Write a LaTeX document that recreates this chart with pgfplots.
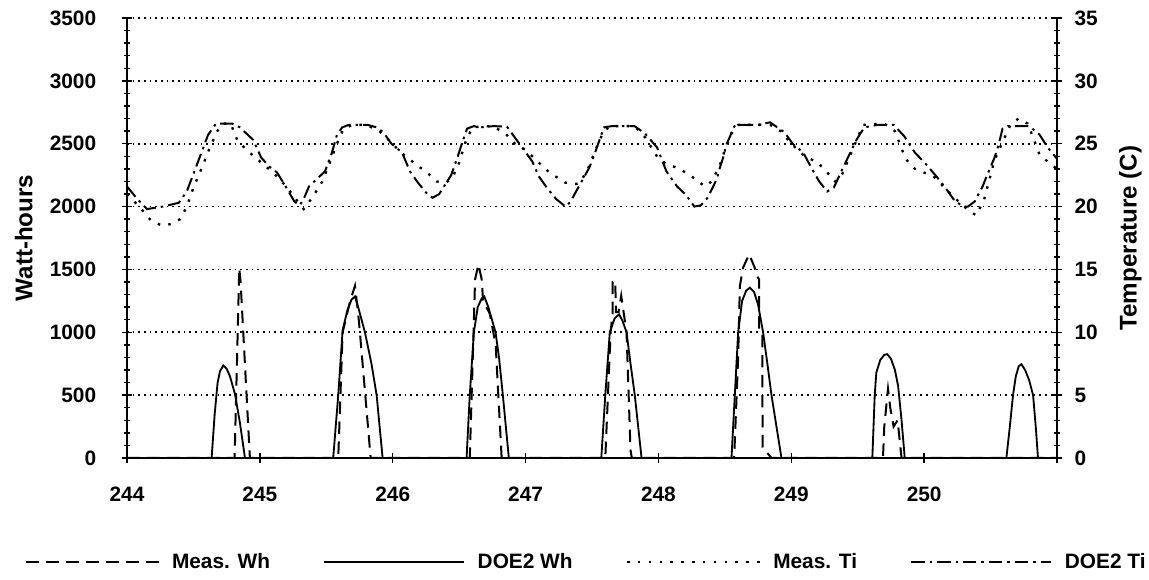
\documentclass[border=0pt]{standalone}
\usepackage{fontspec}
\setmainfont{Liberation Sans}
\usepackage{pgfplots}
\pgfplotsset{compat=1.18}
\pgfplotsset{
  measwh/.style={black, line width=1.2pt, dash pattern=on 7.5pt off 4.5pt},
  doewh/.style={black, line width=1.1pt, solid},
  measti/.style={black, line width=1.4pt, dash pattern=on 1.5pt off 5pt},
  doeti/.style={black, line width=1.2pt, dash pattern=on 8pt off 3pt on 1.5pt off 3pt},
  shortimg/.style={legend image code/.code={\draw[##1] (0pt,0pt) -- (79.5pt,0pt); \path (85pt,0pt);}},
  common/.style={
    at={(76.2pt,72.6pt)}, anchor=south west,
    scale only axis, width=558pt, height=264pt,
    xmin=244, xmax=251,
    tick align=center,
    major tick length=6pt, minor tick length=3.5pt,
    every tick/.style={black, line width=0.8pt},
    axis line style={black, line width=1.2pt},
    /pgf/number format/assume math mode=true,
    /pgf/number format/1000 sep={},
    tick label style={font=\fontsize{12.5}{15}\selectfont\bfseries},
    label style={font=\fontsize{14.5}{17}\selectfont\bfseries},
    scaled ticks=false,
  },
}
\begin{document}
\begin{tikzpicture}
\useasboundingbox (0,0) rectangle (689.4pt,347.4pt);
\begin{axis}[common,
  ymin=0, ymax=3500,
  axis x line*=bottom, axis y line*=left,
  xtick={244,245,...,251}, xticklabels={244,245,246,247,248,249,250,},
  ytick={0,500,...,3500}, minor y tick num=4,
  ymajorgrids,
  major grid style={black, line width=1pt, dash pattern=on 1pt off 2.4pt},
  xticklabel style={yshift=-11pt},
  yticklabel style={xshift=-12pt},
  ylabel={Watt-hours},
  ylabel style={at={(axis description cs:-0.111,0.5)}, anchor=center},
]
\addplot[measwh] coordinates {
(244,0) (244.81,0) (244.845,1510) (244.855,1400) (244.925,0)
(245.59,0) (245.623,1000) (245.68,1250) (245.716,1370) (245.74,1150) (245.753,1000) (245.834,0)
(246.58,0) (246.60,700) (246.62,1420) (246.645,1540) (246.67,1420) (246.68,1250) (246.73,1150) (246.775,900) (246.82,0)
(247.60,0) (247.64,1000) (247.655,1150) (247.656,1400) (247.675,1410) (247.68,1160) (247.70,1160) (247.72,1290) (247.76,1000) (247.79,60) (247.80,0)
(248.57,0) (248.60,800) (248.613,1368) (248.637,1514) (248.683,1620) (248.725,1514) (248.74,1450) (248.757,1421) (248.758,1024) (248.782,1000) (248.784,85) (248.851,0)
(249.69,0) (249.70,250) (249.728,550) (249.745,400) (249.77,250) (249.80,300) (249.83,0)
(251,0)
};
\addplot[doewh] coordinates {
(244,0) (244.637,0) (244.66,350) (244.682,600) (244.70,690) (244.725,736) (244.75,710) (244.775,650) (244.813,507) (244.85,280) (244.888,0)
(245.552,0) (245.59,500) (245.623,1016) (245.66,1180) (245.69,1260) (245.716,1285) (245.74,1200) (245.791,1000) (245.84,750) (245.879,500) (245.924,0)
(246.556,0) (246.58,500) (246.611,1000) (246.64,1200) (246.67,1270) (246.689,1285) (246.72,1200) (246.774,1000) (246.80,800) (246.829,500) (246.874,0)
(247.57,0) (247.60,500) (247.634,1000) (247.67,1110) (247.704,1143) (247.73,1090) (247.760,1000) (247.79,750) (247.822,500) (247.873,0)
(248.55,0) (248.575,500) (248.600,1000) (248.63,1250) (248.66,1330) (248.688,1355) (248.72,1320) (248.75,1220) (248.788,1000) (248.82,750) (248.851,500) (248.926,0)
(249.61,0) (249.628,500) (249.64,680) (249.67,780) (249.70,820) (249.721,826) (249.75,790) (249.78,700) (249.804,574) (249.83,300) (249.854,0)
(250.619,0) (250.645,250) (250.669,500) (250.69,650) (250.712,730) (250.732,746) (250.76,700) (250.79,620) (250.820,500) (250.84,250) (250.857,0)
(251,0)
};
\end{axis}
\begin{axis}[common,
  ymin=0, ymax=35,
  axis x line=none, axis y line*=right,
  ytick={0,5,...,35}, minor y tick num=4,
  yticklabel style={xshift=4pt},
  ylabel={Temperature (C)},
  ylabel style={at={(axis description cs:1.079,0.5)}, anchor=center},
  legend columns=4,
  legend style={at={(axis description cs:0.4946,-0.236)}, anchor=center, draw=none, fill=none,
    font=\fontsize{12.5}{15}\selectfont\bfseries,
    /tikz/every odd column/.append style={column sep=0pt},
    /tikz/every even column/.append style={column sep=30pt}},
  legend image code/.code={\draw[#1] (0pt,0pt) -- (84pt,0pt); \path (89.5pt,0pt);},
]
\addlegendimage{measwh, shortimg}\addlegendentry{Meas. Wh}
\addlegendimage{doewh}\addlegendentry{DOE2 Wh}
\addplot[measti, shortimg] coordinates {
(244.00,21.0) (244.10,19.9) (244.18,18.9) (244.26,18.5) (244.33,18.6) (244.40,19.0) (244.45,20.0) (244.50,21.5) (244.56,23.0) (244.62,24.6) (244.68,26.0) (244.72,26.6) (244.78,26.6) (244.83,25.3) (244.90,24.5)
(245.00,23.6) (245.10,22.7) (245.20,21.6) (245.27,20.6) (245.33,19.8) (245.40,20.8) (245.47,22.0) (245.53,23.6) (245.58,25.0) (245.63,26.2) (245.70,26.5) (245.80,26.5) (245.90,26.0)
(246.00,25.0) (246.05,24.4) (246.17,23.4) (246.27,22.6) (246.33,22.0) (246.40,21.9) (246.45,22.3) (246.50,23.5) (246.55,25.2) (246.60,26.3) (246.70,26.4) (246.76,26.35) (246.85,25.8) (246.92,25.0)
(247.00,24.5) (247.05,24.0) (247.18,22.7) (247.30,21.9) (247.38,21.8) (247.41,21.9) (247.47,23.0) (247.53,24.6) (247.58,25.8) (247.63,26.4) (247.82,26.4) (247.90,25.5)
(248.00,23.8) (248.06,23.4) (248.16,23.0) (248.25,22.4) (248.35,21.6) (248.40,22.0) (248.46,23.2) (248.50,24.5) (248.55,25.8) (248.60,26.5) (248.75,26.5) (248.84,26.5) (248.92,26.0)
(249.00,25.0) (249.10,24.0) (249.20,23.5) (249.28,22.6) (249.33,22.0) (249.38,22.5) (249.44,24.0) (249.50,25.5) (249.54,26.5) (249.70,26.6) (249.78,26.0) (249.82,24.9) (249.86,23.8) (249.93,23.0)
(250.07,22.4) (250.20,21.0) (250.30,20.0) (250.39,19.3) (250.45,20.5) (250.53,23.7) (250.58,24.9) (250.65,26.5) (250.71,27.0) (250.78,26.6) (250.87,24.1) (250.95,23.4) (251.00,23.0)
};
\addlegendentry{Meas. Ti}
\addplot[doeti] coordinates {
(244.00,21.6) (244.07,20.7) (244.15,19.8) (244.27,20.0) (244.39,20.3) (244.45,21.2) (244.55,24.0) (244.61,25.7) (244.67,26.6) (244.79,26.6) (244.85,26.3) (244.95,25.3)
(245.01,23.9) (245.07,23.2) (245.13,22.7) (245.20,21.5) (245.26,20.4) (245.30,20.1) (245.33,20.6) (245.37,21.6) (245.49,22.8) (245.54,24.2) (245.58,25.7) (245.62,26.3) (245.67,26.5) (245.76,26.5) (245.81,26.5) (245.88,26.3) (245.93,25.9) (245.99,25.0)
(246.07,24.3) (246.13,22.8) (246.19,21.9) (246.26,21.0) (246.30,20.7) (246.35,21.0) (246.44,22.5) (246.49,24.0) (246.52,25.0) (246.56,26.2) (246.61,26.4) (246.66,26.3) (246.76,26.4) (246.86,26.35) (246.96,24.9)
(247.05,23.6) (247.10,22.4) (247.16,21.5) (247.23,20.6) (247.30,20.0) (247.34,20.4) (247.38,21.2) (247.48,23.1) (247.52,24.2) (247.56,25.4) (247.59,26.3) (247.65,26.4) (247.71,26.4) (247.82,26.4) (247.90,25.8) (247.99,24.7)
(248.06,22.8) (248.14,21.6) (248.21,20.9) (248.27,20.0) (248.32,20.1) (248.37,20.7) (248.44,22.2) (248.46,23.0) (248.49,24.0) (248.51,24.9) (248.54,25.6) (248.56,26.2) (248.58,26.5) (248.66,26.5) (248.75,26.5) (248.84,26.7) (248.95,25.9)
(249.01,25.0) (249.09,24.3) (249.15,23.1) (249.21,22.0) (249.27,21.2) (249.32,21.5) (249.39,23.1) (249.49,25.3) (249.55,26.3) (249.65,26.5) (249.77,26.5) (249.85,25.6) (249.93,24.3)
(250.02,23.3) (250.10,22.3) (250.16,21.5) (250.22,20.6) (250.29,20.0) (250.33,20.0) (250.38,20.4) (250.44,21.6) (250.47,22.4) (250.53,23.9) (250.56,24.9) (250.59,26.2) (250.63,26.4) (250.79,26.4) (250.87,25.7) (250.93,24.7) (251.00,23.8)
};
\addlegendentry{DOE2 Ti}
\end{axis}
\end{tikzpicture}
\end{document}
